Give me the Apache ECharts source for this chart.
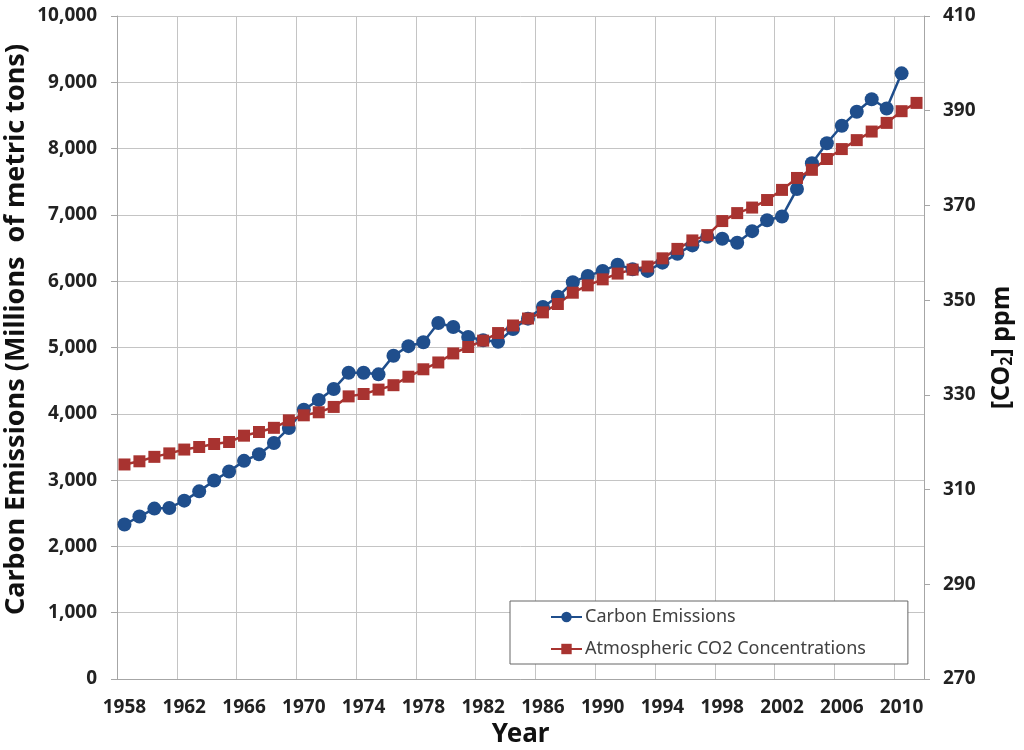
<!DOCTYPE html>
<html>
<head>
<meta charset="utf-8">
<title>Carbon Emissions and CO2</title>
<script src="https://cdn.jsdelivr.net/npm/echarts@6/dist/echarts.min.js"></script>
<style>
    html, body { margin: 0; padding: 0; background: #fff; }
    #chart { width: 1024px; height: 750px; }
</style>
</head>
<body>
<div id="chart"></div>
<script>
var years = [];
for (var y = 1958; y <= 2011; y++) {
    years.push(String(y));
}
// 1958 - 2010
var carbonEmissions = [
    2330, 2450, 2570, 2580, 2690, 2830, 2995, 3130, 3290, 3390,
    3560, 3785, 4060, 4210, 4375, 4620, 4620, 4595, 4875, 5020,
    5080, 5370, 5310, 5160, 5110, 5085, 5280, 5435, 5610, 5765,
    5985, 6080, 6155, 6250, 6180, 6155, 6280, 6415, 6540, 6670,
    6640, 6580, 6755, 6920, 6975, 7390, 7780, 8080, 8345, 8555,
    8745, 8605, 9135
];
// 1958 - 2011
var co2Concentration = [
    315.30, 315.97, 316.91, 317.64, 318.45, 318.99, 319.62, 320.04, 321.38, 322.16,
    323.04, 324.62, 325.68, 326.32, 327.45, 329.68, 330.18, 331.11, 332.04, 333.83,
    335.40, 336.84, 338.75, 340.11, 341.45, 343.05, 344.65, 346.12, 347.42, 349.19,
    351.57, 353.12, 354.39, 355.61, 356.45, 357.10, 358.83, 360.82, 362.61, 363.73,
    366.70, 368.38, 369.55, 371.14, 373.28, 375.80, 377.52, 379.80, 381.90, 383.79,
    385.60, 387.43, 389.90, 391.65
];

var blue = '#1f4e8c';
var red = '#a83330';
var gridColor = '#c4c4c4';
var axisColor = '#a6a6a6';
var fontName = 'Noto Sans';

var myChart = echarts.init(document.getElementById('chart'));
var option = {
    animation: false,
    textStyle: { fontFamily: fontName },
    grid: {
        left: 117,
        right: 100,
        top: 16,
        bottom: 71,
        outerBoundsMode: 'none'
    },
    legend: {
        orient: 'vertical',
        left: 510,
        top: 601,
        padding: [7, 42, 6, 40],
        itemGap: 14,
        itemWidth: 31,
        itemHeight: 13,
        backgroundColor: '#fff',
        borderColor: '#666',
        borderWidth: 1,
        borderRadius: 0,
        textStyle: {
            fontFamily: fontName,
            fontSize: 18,
            color: '#404040',
            padding: [0, 0, 0, -2]
        },
        data: ['Carbon Emissions', 'Atmospheric CO2 Concentrations']
    },
    xAxis: {
        type: 'category',
        boundaryGap: true,
        data: years,
        name: 'Year',
        nameLocation: 'middle',
        nameGap: 42,
        nameTextStyle: {
            fontFamily: fontName,
            fontSize: 26,
            fontWeight: 'bold',
            color: '#111'
        },
        axisLine: { lineStyle: { color: axisColor } },
        axisTick: { interval: 3, length: 6, lineStyle: { color: axisColor } },
        axisLabel: {
            interval: 3,
            margin: 19,
            fontSize: 19,
            fontWeight: 'bold',
            color: '#222'
        },
        splitLine: { show: true, interval: 3, lineStyle: { color: gridColor } }
    },
    yAxis: [{
        type: 'value',
        min: 0,
        max: 10000,
        interval: 1000,
        name: 'Carbon Emissions (Millions  of metric tons)',
        nameLocation: 'middle',
        nameGap: 87,
        nameMoveOverlap: false,
        nameTextStyle: {
            fontFamily: fontName,
            fontSize: 27,
            fontWeight: 'bold',
            color: '#111',
            padding: [0, 0, 0, 36]
        },
        axisLine: { show: true, lineStyle: { color: axisColor } },
        axisTick: { show: true, length: 6, lineStyle: { color: axisColor } },
        axisLabel: {
            margin: 20,
            fontSize: 19,
            fontWeight: 'bold',
            color: '#222',
            formatter: function (v) {
                return v.toString().replace(/\B(?=(\d{3})+(?!\d))/g, ',');
            }
        },
        splitLine: { show: true, lineStyle: { color: gridColor } }
    }, {
        type: 'value',
        position: 'right',
        min: 270,
        max: 410,
        interval: 20,
        name: '{b|[CO}{s|2}{b|] ppm}',
        nameLocation: 'middle',
        nameRotate: 90,
        nameGap: 65,
        nameMoveOverlap: false,
        nameTextStyle: {
            rich: {
                b: { fontFamily: fontName, fontSize: 25, fontWeight: 'bold', color: '#111' },
                s: { fontFamily: fontName, fontSize: 16, fontWeight: 'bold', color: '#111', padding: [10, 0, 0, 0] }
            }
        },
        axisLine: { show: true, lineStyle: { color: axisColor } },
        axisTick: { show: true, length: 6, lineStyle: { color: axisColor } },
        axisLabel: {
            margin: 19,
            fontSize: 19,
            fontWeight: 'bold',
            color: '#222'
        },
        splitLine: { show: false }
    }],
    series: [{
        name: 'Carbon Emissions',
        type: 'line',
        yAxisIndex: 0,
        data: carbonEmissions,
        showAllSymbol: true,
        symbol: 'circle',
        symbolSize: 14,
        itemStyle: { color: blue },
        lineStyle: { color: blue, width: 2.5 }
    }, {
        name: 'Atmospheric CO2 Concentrations',
        type: 'line',
        yAxisIndex: 1,
        data: co2Concentration,
        showAllSymbol: true,
        symbol: 'rect',
        symbolSize: 12,
        itemStyle: { color: red },
        lineStyle: { color: red, width: 2.5 }
    }]
};
myChart.setOption(option);
</script>
</body>
</html>
